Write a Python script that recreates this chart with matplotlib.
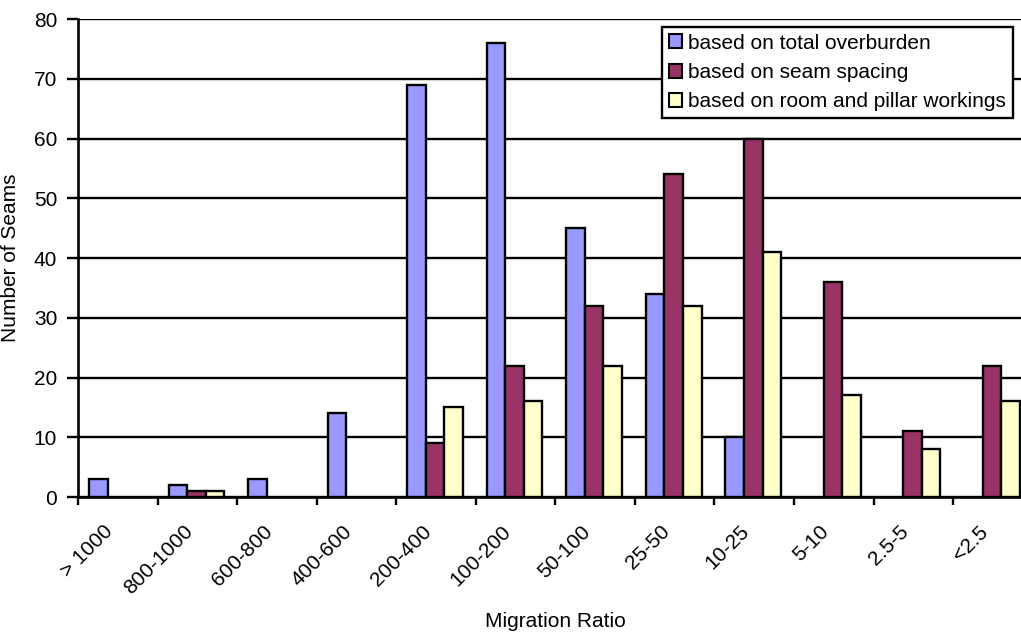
import numpy as np
import matplotlib
matplotlib.use("Agg")
import matplotlib.pyplot as plt

plt.rcParams['font.family'] = ['Liberation Sans', 'DejaVu Sans']

categories = ["> 1000", "800-1000", "600-800", "400-600", "200-400", "100-200",
              "50-100", "25-50", "10-25", "5-10", "2.5-5", "<2.5"]
overburden = [3, 2, 3, 14, 69, 76, 45, 34, 10, 0, 0, 0]
seam_spacing = [0, 1, 0, 0, 9, 22, 32, 54, 60, 36, 11, 22]
room_pillar = [0, 1, 0, 0, 15, 16, 22, 32, 41, 17, 8, 16]

series = [
    ("based on total overburden", overburden, "#9999FF"),
    ("based on seam spacing", seam_spacing, "#993366"),
    ("based on room and pillar workings", room_pillar, "#FFFFCC"),
]

fig = plt.figure(figsize=(10.21, 6.32), dpi=100)
# plot area runs a little past the right edge, like the original crop
ax = fig.add_axes([0.0764, 0.2136, 0.935, 0.756])

x = np.arange(len(categories))
w = 0.233
for i, (name, vals, col) in enumerate(series):
    vals = np.array(vals, dtype=float)
    # empty categories get no outline
    ax.bar(x + (i - 1) * w - 0.012, vals, w, color=col, edgecolor="black",
           linewidth=np.where(vals > 0, 1.7, 0), label=name, zorder=3)

ax.set_xlim(-0.5, len(categories) - 0.5)
ax.set_ylim(0, 80)
ax.set_yticks(range(0, 81, 10))
ax.yaxis.grid(True, color="black", linewidth=1.7, zorder=1)
ax.set_axisbelow(True)

# tick marks on category boundaries, labels near the centres
ax.set_xticks(np.arange(-0.5, len(categories), 1.0))
ax.set_xticklabels([])
ax.set_xticks(x - 0.18, minor=True)
ax.set_xticklabels(categories, minor=True, rotation=45, ha="right",
                   va="top", rotation_mode="anchor", fontsize=15)
ax.tick_params(axis="x", which="minor", length=0, pad=18)
ax.tick_params(axis="x", which="major", length=6, width=1.7, direction="out")
ax.tick_params(axis="y", length=8, width=1.7, labelsize=15, pad=7)

for s in ["top", "right"]:
    ax.spines[s].set_visible(False)
for s in ["left", "bottom"]:
    ax.spines[s].set_linewidth(1.9)

ax.set_ylabel("Number of Seams", fontsize=15, labelpad=10)
ax.set_xlabel("Migration Ratio", fontsize=15, labelpad=10)

leg = ax.legend(loc="upper right", bbox_to_anchor=(0.979, 0.983), fontsize=15,
                frameon=True, fancybox=False, handlelength=0.65,
                handleheight=0.65, handletextpad=0.3, borderpad=0.3,
                labelspacing=0.5, borderaxespad=0, framealpha=1)
leg.get_frame().set_edgecolor("black")
leg.get_frame().set_linewidth(1.7)
for h in leg.legend_handles:
    h.set_linewidth(1.5)
    h.set_edgecolor("black")

fig.savefig("out.png", dpi=100)
